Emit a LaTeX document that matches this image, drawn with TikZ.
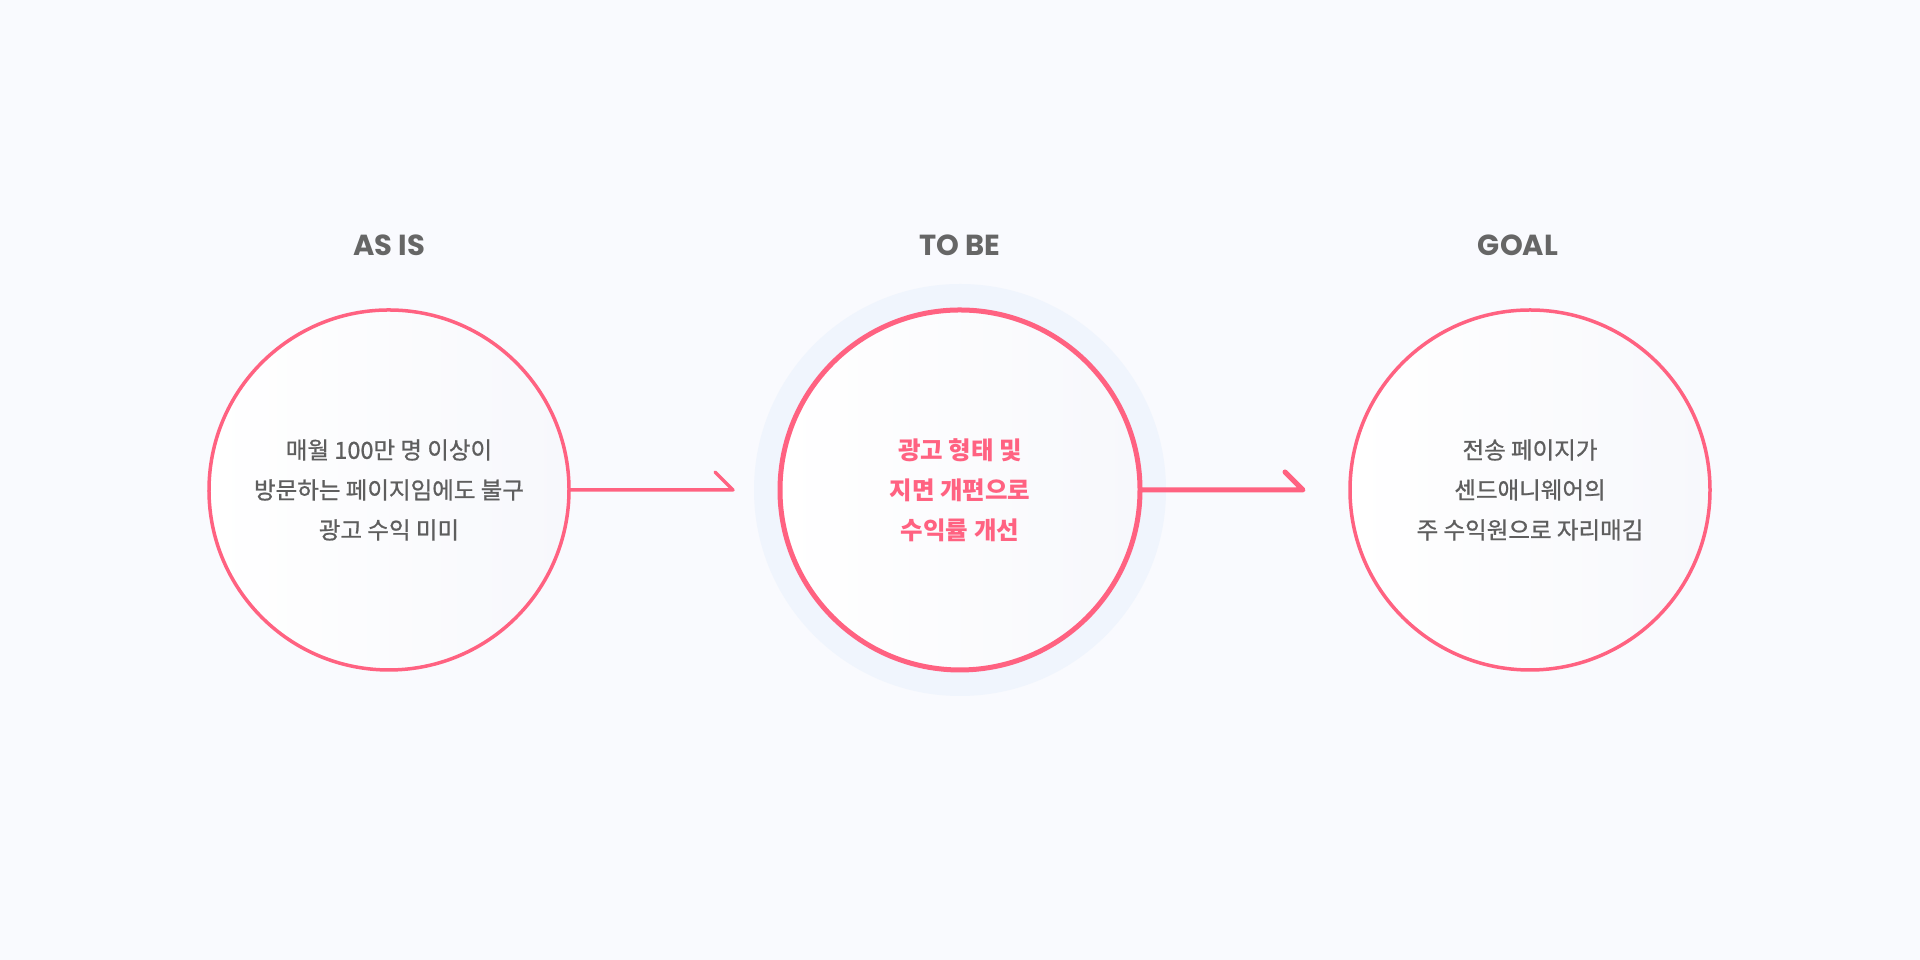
\documentclass[tikz,border=0pt]{standalone}
\usepackage{fontspec}
\newfontfamily\kr{Noto Sans CJK KR}[FakeBold=0.9]
\newfontfamily\krb{Noto Sans CJK KR}
\newfontfamily\ttl{Poppins}
\definecolor{bg}{HTML}{F9FAFE}
\definecolor{pink}{HTML}{FF6281}
\definecolor{halo}{HTML}{F0F5FD}
\definecolor{txt}{HTML}{5E5E5E}
\definecolor{ttlc}{HTML}{666666}
\definecolor{bubr}{HTML}{F7F8FC}
\begin{document}
\begin{tikzpicture}[x=1pt,y=1pt,
 title/.style={font=\ttl\bfseries\fontsize{29}{34}\selectfont, text=ttlc, anchor=base},
 bubble/.style={circle, minimum size=360pt, inner sep=0pt, outer sep=0pt, left color=white, right color=bubr},
 body/.style={align=center, font=\kr\fontsize{23.5}{40}\selectfont, text=txt},
 thinline/.style={draw=pink, line width=3.5pt, line cap=round, line join=round},
 thickline/.style={draw=pink, line width=5pt, line cap=round, line join=round}]
\fill[bg] (0,0) rectangle (1920,960);
\useasboundingbox (0,0) rectangle (1920,960);
\fill[halo] (960,470) circle[radius=206];
\node[bubble] (c1) at (389,470) {};
\node[bubble] (c2) at (960,470) {};
\node[bubble] (c3) at (1530,470) {};
\node[title] (h1) at (389,704) {AS IS};
\node[title] (h2) at (960,704) {TO BE};
\node[title] (h3) at (1518,704) {GOAL};
\node[body] (t1) at (c1) {매월 100만 명 이상이\\방문하는 페이지임에도 불구\\광고 수익 미미};
\node[body, text=pink, font=\krb\bfseries\fontsize{24.5}{40}\selectfont] (t2) at (c2) {광고 형태 및\\지면 개편으로\\수익률 개선};
\node[body] (t3) at (c3) {전송 페이지가\\센드애니웨어의\\주 수익원으로 자리매김};
\draw[thinline] (c1.-4) arc[start angle=-4, end angle=360, radius=180] -- ([xshift=-47pt]c2.west) coordinate (a1) -- ++(-18,18);
\draw[thickline] (c2.-4) arc[start angle=-4, end angle=360, radius=180] -- ([xshift=-47pt]c3.west) coordinate (a2) -- ++(-18,18);
\draw[thinline] (c3) circle[radius=180];
\end{tikzpicture}
\end{document}
